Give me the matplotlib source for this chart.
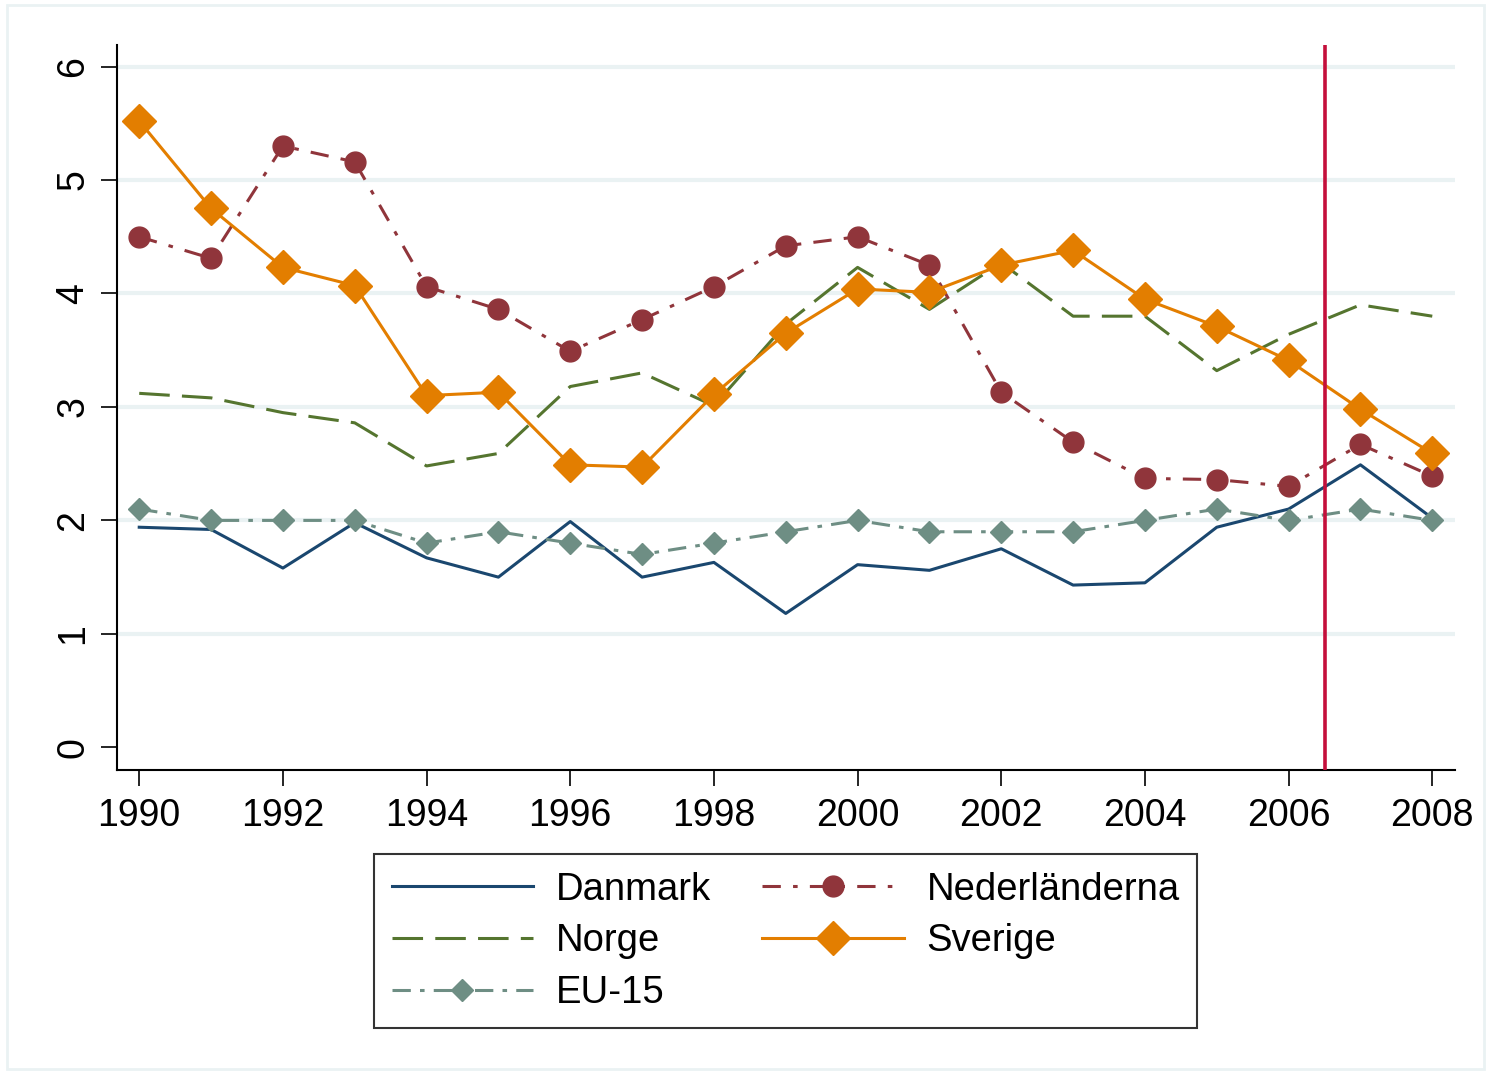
import numpy as np
import matplotlib
matplotlib.use("Agg")
import matplotlib.pyplot as plt
from matplotlib.patches import Rectangle

plt.rcParams['font.family'] = ['Liberation Sans', 'DejaVu Sans']

# Data
years = list(range(1990, 2009))
danmark = [1.94, 1.92, 1.58, 1.98, 1.67, 1.50, 1.99, 1.50, 1.63, 1.18,
           1.61, 1.56, 1.75, 1.43, 1.45, 1.94, 2.10, 2.49, 2.02]
nederlanderna = [4.50, 4.31, 5.30, 5.16, 4.06, 3.86, 3.49, 3.77, 4.06, 4.42,
                 4.50, 4.25, 3.13, 2.69, 2.37, 2.36, 2.30, 2.67, 2.39]
norge = [3.12, 3.08, 2.95, 2.86, 2.48, 2.59, 3.18, 3.30, 3.01, 3.73,
         4.23, 3.86, 4.27, 3.80, 3.80, 3.32, 3.64, 3.90, 3.80]
sverige = [5.52, 4.75, 4.23, 4.07, 3.10, 3.13, 2.49, 2.47, 3.11, 3.65,
           4.04, 4.01, 4.25, 4.38, 3.95, 3.71, 3.41, 2.98, 2.59]
eu15 = [2.1, 2.0, 2.0, 2.0, 1.8, 1.9, 1.8, 1.7, 1.8, 1.9,
        2.0, 1.9, 1.9, 1.9, 2.0, 2.1, 2.0, 2.1, 2.0]
vline_year = 2006.5

fig = plt.figure(figsize=(14.88, 10.72), dpi=100)
# faint outer frame (Stata graph region)
fig.patches.append(Rectangle((0.005, 0.003), 0.992, 0.992, transform=fig.transFigure,
                             fill=False, edgecolor='#EAF2F3', linewidth=2))
ax = fig.add_axes([0.0786, 0.2817, 0.8994, 0.6763])

lw = 2.2
l_dk, = ax.plot(years, danmark, color='#1A476F', lw=lw, label='Danmark', zorder=3)
l_nl, = ax.plot(years, nederlanderna, color='#90353B', lw=lw, dashes=(6, 4, 1.5, 4),
                marker='o', markersize=15, label='Nederländerna', zorder=4)
l_no, = ax.plot(years, norge, color='#55752F', lw=lw, dashes=(10, 4),
                label='Norge', zorder=3)
l_sv, = ax.plot(years, sverige, color='#E37E00', lw=lw, marker='D', markersize=17,
                label='Sverige', zorder=5)
l_eu, = ax.plot(years, eu15, color='#6E8E84', lw=lw, dashes=(6, 3, 1.5, 3),
                marker='D', markersize=11, label='EU-15', zorder=4)

ax.axvline(vline_year, color='#C40F3B', lw=2.6, zorder=6)

ax.set_xlim(1989.69, 2008.32)
ax.set_ylim(-0.2, 6.19)
ax.set_yticks(range(0, 7))
ax.set_xticks(range(1990, 2009, 2))
for y in range(1, 7):
    ax.axhline(y, color='#EAF2F3', lw=3, zorder=1)

for s in ['top', 'right']:
    ax.spines[s].set_visible(False)
for s in ['left', 'bottom']:
    ax.spines[s].set_linewidth(1.5)
ax.tick_params(axis='both', direction='out', length=11.5, width=1.2, labelsize=27)
ax.tick_params(axis='y', labelrotation=90, pad=7)
ax.tick_params(axis='x', pad=9)
for lab in ax.get_yticklabels():
    lab.set_verticalalignment('center')

# two columns filled column-wise: col1 = Danmark, Norge, EU-15; col2 = Nederländerna, Sverige
order = [l_dk, l_no, l_eu, l_nl, l_sv]
leg = fig.legend(order, [h.get_label() for h in order], ncol=2, loc='center',
                 bbox_to_anchor=(0.528, 0.122), fontsize=27.5, numpoints=1,
                 handlelength=3.7, handletextpad=0.6, columnspacing=1.35,
                 labelspacing=0.41, frameon=True, fancybox=False,
                 borderpad=0.45, borderaxespad=0, edgecolor='black')
leg.get_frame().set_linewidth(1.5)

fig.savefig('out.png', dpi=100, facecolor='white')
